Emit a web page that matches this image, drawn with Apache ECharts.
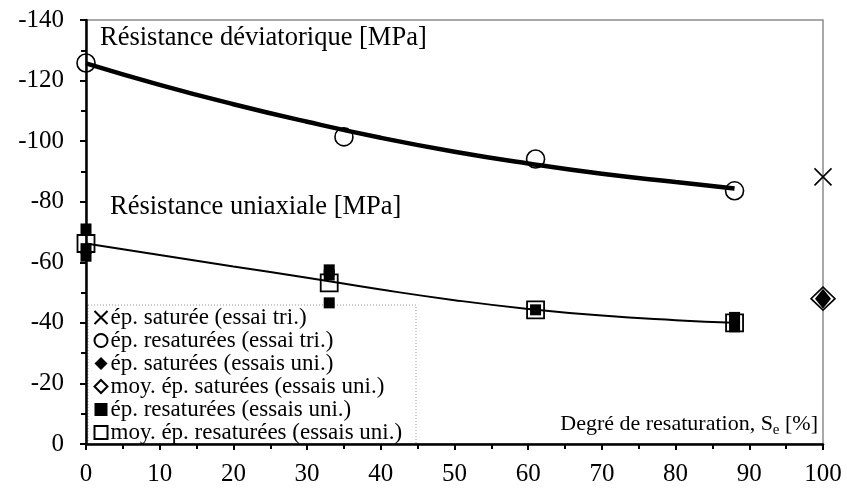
<!DOCTYPE html>
<html>
<head>
<meta charset="utf-8">
<script src="https://cdn.jsdelivr.net/npm/echarts@6/dist/echarts.min.js"></script>
<style>
    html, body { margin: 0; padding: 0; background: #fff; }
    #chart { width: 847px; height: 488px; }
</style>
</head>
<body>
<div id="chart"></div>
<script>
// courbes de tendance
var devCurveX = [0, 10, 20, 30, 40, 50, 60, 70, 80, 88];
var devCurveY = [-125.7, -118.6, -112.2, -106.4, -101.1, -96.5, -92.6, -89.2, -86.5, -84.4];
var uniCurveX = [0, 10, 20, 30, 40, 50, 60, 70, 80, 88];
var uniCurveY = [-66.2, -62.4, -58.6, -54.9, -51.0, -47.5, -44.6, -42.4, -40.9, -40.0];

// points de mesure
var satTriX = [100];
var satTriY = [-88.2];
var resatTriX = [0, 35, 61, 88];
var resatTriY = [-125.8, -101.4, -94.1, -83.6];
var satUniX = [100];
var satUniY = [-48];
var moySatUniX = [100];
var moySatUniY = [-48];
var resatUniX = [0, 0, 0, 33, 33, 33, 61, 88, 88];
var resatUniY = [-71, -64.5, -62, -57.5, -55.8, -46.6, -44.3, -41.8, -38.7];
var moyResatUniX = [0, 33, 61, 88];
var moyResatUniY = [-66.2, -53.2, -44.3, -40];

var xTicks = { min: 0, max: 100, interval: 10 };
var yTicks = { min: -140, max: 0, interval: 20 };

var legendNames = [
    'ép. saturée (essai tri.)',
    'ép. resaturées (essai tri.)',
    'ép. saturées (essais uni.)',
    'moy. ép. saturées (essais uni.)',
    'ép. resaturées (essais uni.)',
    'moy. ép. resaturées (essais uni.)'
];

function pairs(xs, ys) {
    var out = [];
    for (var i = 0; i < xs.length; i++) {
        out.push([xs[i], ys[i]]);
    }
    return out;
}

var FONT = 'Liberation Serif';
var crossPath = 'path://M0,0L10,10M10,0L0,10';

var chart = echarts.init(document.getElementById('chart'), null, { renderer: 'canvas' });

var option = {
    backgroundColor: '#fff',
    animation: false,
    grid: {
        left: 86,
        right: 24,
        top: 20,
        bottom: 44,
        show: true,
        borderColor: '#8c8c8c',
        borderWidth: 1.5
    },
    xAxis: {
        type: 'value',
        min: xTicks.min,
        max: xTicks.max,
        interval: xTicks.interval,
        axisLine: { show: true, onZero: false, lineStyle: { color: '#000', width: 2.5 } },
        axisTick: { show: true, length: 6, lineStyle: { color: '#000', width: 2 } },
        minorTick: { show: true, splitNumber: 2, length: 5, lineStyle: { color: '#000', width: 2 } },
        splitLine: { show: false },
        axisLabel: { color: '#000', fontFamily: FONT, fontSize: 25, margin: 18 }
    },
    yAxis: {
        type: 'value',
        inverse: true,
        min: yTicks.min,
        max: yTicks.max,
        interval: yTicks.interval,
        axisLine: { show: true, onZero: false, lineStyle: { color: '#000', width: 2.5 } },
        axisTick: { show: true, length: 6, lineStyle: { color: '#000', width: 2 } },
        minorTick: { show: true, splitNumber: 2, length: 5, lineStyle: { color: '#000', width: 2 } },
        splitLine: { show: false },
        axisLabel: { color: '#000', fontFamily: FONT, fontSize: 25, margin: 22 }
    },
    legend: {
        orient: 'vertical',
        left: 92,
        top: 306,
        itemWidth: 13,
        itemHeight: 13,
        itemGap: 0,
        padding: 0,
        selectedMode: false,
        textStyle: { color: '#000', fontFamily: FONT, fontSize: 23, padding: [0, 0, 0, -2] },
        data: legendNames
    },
    graphic: [
        {
            type: 'rect',
            silent: true,
            shape: { x: 88, y: 305, width: 328, height: 139 },
            style: { fill: 'none', stroke: '#999', lineWidth: 1, lineDash: [1, 2] },
            z: 0
        },
        {
            type: 'text',
            x: 100, y: 38,
            style: {
                text: 'Résistance déviatorique [MPa]',
                font: '26.5px "Liberation Serif"',
                fill: '#000',
                textVerticalAlign: 'middle', verticalAlign: 'middle'
            }
        },
        {
            type: 'text',
            x: 110, y: 207,
            style: {
                text: 'Résistance uniaxiale [MPa]',
                font: '26.5px "Liberation Serif"',
                fill: '#000',
                textVerticalAlign: 'middle', verticalAlign: 'middle'
            }
        },
        {
            type: 'text',
            x: 818, y: 424,
            style: {
                text: 'Degré de resaturation, S{e|e} [%]',
                font: '22px "Liberation Serif"',
                fill: '#000',
                textAlign: 'right', align: 'right',
                textVerticalAlign: 'middle', verticalAlign: 'middle',
                rich: {
                    e: { font: '15px "Liberation Serif"', fill: '#000', padding: [12, 0, 0, 0] }
                }
            }
        }
    ],
    series: [
        {
            type: 'line',
            data: pairs(devCurveX, devCurveY),
            smooth: true,
            showSymbol: false,
            symbol: 'none',
            lineStyle: { color: '#000', width: 4.5 },
            z: 3
        },
        {
            type: 'line',
            data: pairs(uniCurveX, uniCurveY),
            smooth: true,
            showSymbol: false,
            symbol: 'none',
            lineStyle: { color: '#000', width: 2 },
            z: 3
        },
        {
            name: legendNames[0],
            type: 'scatter',
            data: pairs(satTriX, satTriY),
            symbol: crossPath,
            symbolSize: 17,
            itemStyle: { color: 'none', borderColor: '#000', borderWidth: 1.6, opacity: 1 },
            z: 4
        },
        {
            name: legendNames[1],
            type: 'scatter',
            data: pairs(resatTriX, resatTriY),
            symbol: 'circle',
            symbolSize: 18,
            itemStyle: { color: 'none', borderColor: '#000', borderWidth: 1.6, opacity: 1 },
            z: 4
        },
        {
            name: legendNames[3],
            type: 'scatter',
            data: pairs(moySatUniX, moySatUniY),
            symbol: 'diamond',
            symbolSize: [24, 23],
            itemStyle: { color: '#fff', borderColor: '#000', borderWidth: 1.6, opacity: 1 },
            z: 4
        },
        {
            name: legendNames[2],
            type: 'scatter',
            data: pairs(satUniX, satUniY),
            symbol: 'diamond',
            symbolSize: [16, 20],
            itemStyle: { color: '#000', opacity: 1 },
            z: 5
        },
        {
            name: legendNames[4],
            type: 'scatter',
            data: pairs(resatUniX, resatUniY),
            symbol: 'rect',
            symbolSize: 11,
            itemStyle: { color: '#000', opacity: 1 },
            z: 4
        },
        {
            name: legendNames[5],
            type: 'scatter',
            data: pairs(moyResatUniX, moyResatUniY),
            symbol: 'rect',
            symbolSize: 17,
            itemStyle: { color: 'none', borderColor: '#000', borderWidth: 1.8, opacity: 1 },
            z: 5
        }
    ]
};

chart.setOption(option);
</script>
</body>
</html>
